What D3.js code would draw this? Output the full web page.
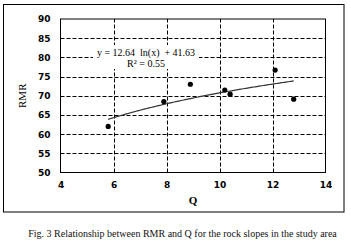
<!DOCTYPE html>
<html><head><meta charset="utf-8">
<script src="https://cdn.jsdelivr.net/npm/d3@7"></script>
<style>body{margin:0;background:#fff}svg{display:block}</style>
</head><body>
<script>
const qValues = [5.8, 7.9, 8.9, 10.2, 10.4, 12.1, 12.8];
const rmrValues = [62, 68.5, 73, 71.5, 70.4, 76.7, 69.1];
const xTicks = [4, 6, 8, 10, 12, 14];
const yTicks = [50, 55, 60, 65, 70, 75, 80, 85, 90];
const fitA = 12.64, fitB = 41.63;
const eqText = "y = 12.64  ln(x)  + 41.63";
const r2Text = "R² = 0.55";
const caption = "Fig. 3 Relationship between RMR and Q for the rock slopes in the study area";

const W = 351, H = 248;
const svg = d3.select("body").append("svg").attr("width", W).attr("height", H);
svg.append("rect").attr("width", W).attr("height", H).attr("fill", "#fff");
svg.append("rect").attr("x", 3.5).attr("y", 4.5).attr("width", 340.5).attr("height", 207.5)
  .attr("fill", "none").attr("stroke", "#000").attr("stroke-width", 1);

const x = d3.scaleLinear().domain([4, 14]).range([60.5, 325.5]);
const y = d3.scaleLinear().domain([50, 90]).range([172.5, 19]);

const g = svg.append("g");
g.selectAll(".hg").data(yTicks.filter(v => v > 50 && v < 90)).join("line")
  .attr("x1", x(4)).attr("x2", x(14)).attr("y1", d => Math.round(y(d)) + 0.5).attr("y2", d => Math.round(y(d)) + 0.5)
  .attr("stroke", "#000").attr("stroke-width", 1).attr("stroke-dasharray", "4,2");
g.selectAll(".vg").data(xTicks.filter(v => v > 4 && v < 14)).join("line")
  .attr("y1", y(50)).attr("y2", y(90)).attr("x1", d => Math.round(x(d)) + 0.5).attr("x2", d => Math.round(x(d)) + 0.5)
  .attr("stroke", "#000").attr("stroke-width", 1).attr("stroke-dasharray", "4,2");
g.append("rect").attr("x", x(4)).attr("y", y(90)).attr("width", x(14) - x(4)).attr("height", y(50) - y(90))
  .attr("fill", "none").attr("stroke", "#000").attr("stroke-width", 1);

const yAxis = d3.axisLeft(y).tickValues(yTicks).tickSize(0).tickPadding(10);
const ya = svg.append("g").attr("transform", `translate(${x(4)},0)`).call(yAxis);
ya.select(".domain").remove();
ya.selectAll("text").attr("font-family", "DejaVu Sans").attr("font-weight", "bold").attr("font-size", 9).attr("fill", "#000");
const xAxis = d3.axisBottom(x).tickValues(xTicks).tickSize(0).tickPadding(9);
const xa = svg.append("g").attr("transform", `translate(0,${y(50)})`).call(xAxis);
xa.select(".domain").remove();
xa.selectAll("text").attr("font-family", "DejaVu Sans").attr("font-weight", "bold").attr("font-size", 9).attr("fill", "#000");

svg.append("text").attr("x", 193).attr("y", 204).attr("text-anchor", "middle")
  .attr("font-family", "Liberation Serif").attr("font-weight", "bold").attr("font-size", 11).text("Q");
svg.append("text").attr("transform", `translate(26,${y(70)}) rotate(-90)`).attr("text-anchor", "middle")
  .attr("font-family", "Liberation Serif").attr("font-size", 11).text("RMR");

const xs = d3.range(qValues[0], d3.max(qValues) + 0.001, 0.05);
const line = d3.line().x(d => x(d)).y(d => y(fitA * Math.log(d) + fitB));
svg.append("path").attr("d", line(xs)).attr("fill", "none").attr("stroke", "#333").attr("stroke-width", 1.2);

svg.selectAll(".pt").data(qValues.map((q, i) => [q, rmrValues[i]])).join("circle")
  .attr("cx", d => x(d[0])).attr("cy", d => y(d[1])).attr("r", 2.6).attr("fill", "#000");

svg.append("rect").attr("x", 93).attr("y", 45).attr("width", 106).attr("height", 24).attr("fill", "#fff");
svg.append("text").attr("x", 146).attr("y", 56).attr("text-anchor", "middle")
  .attr("font-family", "Liberation Serif").attr("font-size", 10).style("white-space", "pre").text(eqText);
svg.append("text").attr("x", 146).attr("y", 67).attr("text-anchor", "middle")
  .attr("font-family", "Liberation Serif").attr("font-size", 10).text(r2Text);

svg.append("text").attr("x", 182.5).attr("y", 237).attr("text-anchor", "middle")
  .attr("font-family", "Liberation Serif").attr("font-size", 10).attr("fill", "#111").text(caption);
</script>
</body></html>
